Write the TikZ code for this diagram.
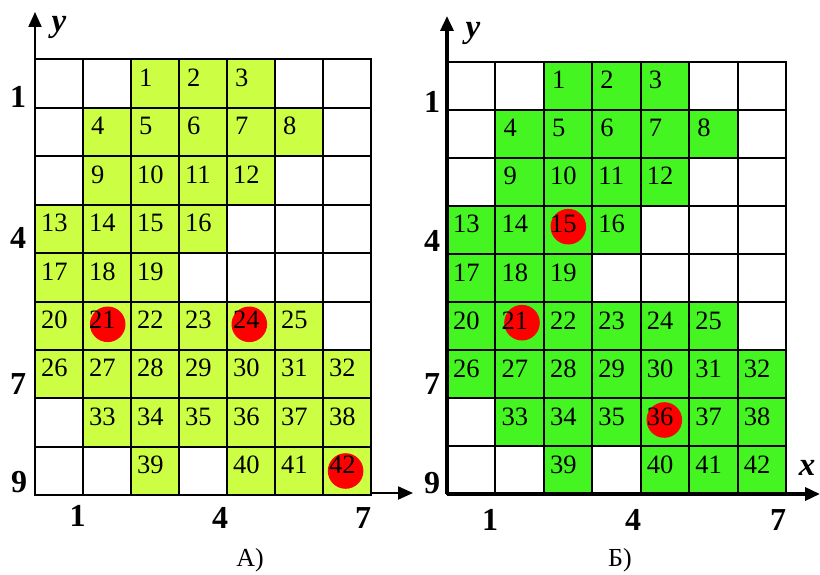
\documentclass[tikz,border=0pt]{standalone}
\usepackage{fontspec}
\setmainfont{Liberation Serif}
\usetikzlibrary{arrows.meta}
\definecolor{lfill}{HTML}{CCFF44}
\definecolor{rfill}{HTML}{44F522}
\definecolor{dotred}{HTML}{FF0000}
\begin{document}
\begin{tikzpicture}[x=1pt,y=-1pt,
  cellnum/.style={anchor=base west,inner sep=0,font=\fontsize{26.5}{26.5}\selectfont},
  axnum/.style={font=\fontsize{32}{32}\selectfont\bfseries,inner sep=0},
  axname/.style={font=\fontsize{33}{33}\selectfont\bfseries\itshape,inner sep=0},
  dot/.style={circle,fill=dotred,minimum size=35.6pt,inner sep=0},
  gridline/.style={line width=2pt,line cap=rect},
  axisarrow/.style={line width=2pt,-{Triangle[length=15pt,width=13pt]}},
  caption/.style={font=\fontsize{26}{26}\selectfont,inner sep=0}]
\useasboundingbox (0,0) rectangle (820,575);
\def\cells{1/1/3,2/1/4,3/1/5,4/2/2,5/2/3,6/2/4,7/2/5,8/2/6,9/3/2,10/3/3,11/3/4,12/3/5,13/4/1,14/4/2,15/4/3,16/4/4,17/5/1,18/5/2,19/5/3,20/6/1,21/6/2,22/6/3,23/6/4,24/6/5,25/6/6,26/7/1,27/7/2,28/7/3,29/7/4,30/7/5,31/7/6,32/7/7,33/8/2,34/8/3,35/8/4,36/8/5,37/8/6,38/8/7,39/9/3,40/9/5,41/9/6,42/9/7}
% fills
\foreach \G/\X/\Y/\W/\H/\col in {L/35/59.5/48/48.4/lfill, R/447/62/48.43/48/rfill}{
  \foreach \n/\r/\c in \cells {
    \fill[\col] ({\X+(\c-1)*\W},{\Y+(\r-1)*\H}) rectangle ++(\W,\H);
  }
}
% red dots
\node[dot] (dL21) at (107.7,324.3) {};
\node[dot] (dL24) at (249.3,324.3) {};
\node[dot] (dL42) at (345.6,471) {};
\node[dot] (dR15) at (568.3,226.7) {};
\node[dot] (dR21) at (522,322.7) {};
\node[dot] (dR36) at (664.3,420) {};
% grid lines and numbers
\foreach \G/\X/\Y/\W/\H in {L/35/59.5/48/48.4, R/447/62/48.43/48}{
  \foreach \i in {0,...,7} \draw[gridline] ({\X+\i*\W},\Y) -- ++(0,{9*\H});
  \foreach \j in {0,...,9} \draw[gridline] (\X,{\Y+\j*\H}) -- ++({7*\W},0);
  \foreach \n/\r/\c in \cells {
    \pgfmathsetmacro\off{\n<10 ? 8 : 6}
    \node[cellnum] (\G\n) at ({\X+(\c-1)*\W+\off},{\Y+(\r-1)*\H+27}) {\n};
  }
}
% axes
\coordinate (LO) at (35,495);
\coordinate (LYtip) at (35,12);
\coordinate (LXs) at (371,493);
\coordinate (LXtip) at (413,493);
\draw[axisarrow] (LO) -- (LYtip);
\draw[axisarrow] (LXs) -- (LXtip);
\coordinate (RO) at (447,494);
\coordinate (RYtip) at (447,16);
\coordinate (RXtip) at (820,494);
\draw[axisarrow,line width=3.5pt] (RO) -- (RYtip);
\draw[axisarrow,line width=3.5pt] (RO) -- (RXtip);
% axis names
\node[axname] (Ly) at (59,27) {y};
\node[axname] (Ry) at (473,33) {y};
\node[axname] (Rx) at (807,468) {x};
% axis numbers left
\node[axnum] (Lr1) at (18,97) {1};
\node[axnum] (Lr4) at (18,238) {4};
\node[axnum] (Lr7) at (18,384) {7};
\node[axnum] (Lr9) at (19,482.5) {9};
\node[axnum] (Lc1) at (77.5,516) {1};
\node[axnum] (Lc4) at (220,518) {4};
\node[axnum] (Lc7) at (363,518) {7};
% axis numbers right
\node[axnum] (Rr1) at (432,102) {1};
\node[axnum] (Rr4) at (432,241) {4};
\node[axnum] (Rr7) at (432,384) {7};
\node[axnum] (Rr9) at (432,483) {9};
\node[axnum] (Rc1) at (490,520) {1};
\node[axnum] (Rc4) at (633,520) {4};
\node[axnum] (Rc7) at (778,520) {7};
% captions
\node[caption] (capA) at (250,560) {А)};
\node[caption] (capB) at (620,560) {Б)};
\end{tikzpicture}
\end{document}
